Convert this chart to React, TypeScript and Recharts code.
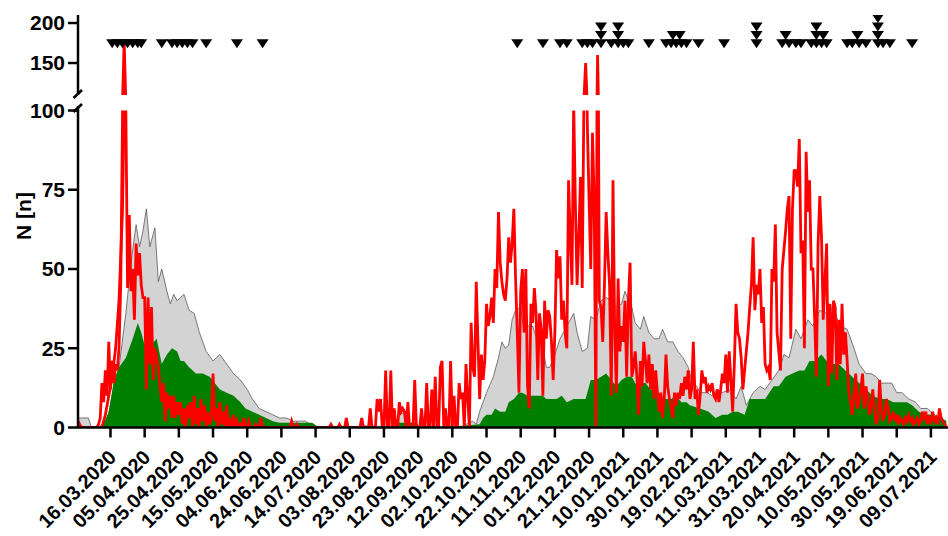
import { Area, ComposedChart, Line, Scatter, XAxis, YAxis } from 'recharts';

// daily counts, day 0 = 26.02.2020
const redDaily = [
  2, 1, 0, 0, 0, 0, 0, 0, 0, 0,
  0, 0, 1, 3, 14, 8, 18, 10, 27, 12,
  21, 14, 20, 18, 25, 45, 95, 178, 100, 44,
  67, 43, 50, 34, 58, 48, 55, 45, 41, 41,
  12, 41, 20, 38, 15, 25, 22, 19, 13, 8,
  14, 2, 11, 6, 10, 3, 10, 3, 8, 4,
  8, 1, 6, 0, 7, 3, 8, 0, 10, 1,
  6, 0, 9, 2, 7, 0, 5, 1, 3, 17,
  2, 6, 0, 8, 1, 5, 0, 7, 0, 2,
  0, 4, 0, 2, 0, 1, 0, 3, 0, 0,
  2, 0, 0, 0, 1, 0, 0, 3, 0, 0,
  0, 0, 0, 0, 0, 0, 0, 0, 0, 0,
  0, 0, 0, 0, 0, 2, 0, 0, 1, 0,
  0, 0, 0, 0, 0, 0, 0, 0, 0, 0,
  0, 0, 0, 0, 0, 0, 0, 0, 1, 0,
  0, 0, 0, 1, 0, 0, 0, 3, 0, 0,
  0, 0, 0, 0, 0, 0, 3, 0, 0, 0,
  0, 6, 0, 0, 0, 9, 5, 9, 0, 0,
  18, 0, 0, 18, 0, 6, 0, 0, 8, 5,
  6, 5, 0, 8, 0, 0, 0, 15, 0, 0,
  0, 6, 0, 0, 14, 0, 0, 12, 0, 16,
  0, 0, 19, 21, 0, 6, 0, 0, 21, 0,
  10, 0, 0, 14, 9, 11, 0, 20, 9, 0,
  33, 19, 16, 46, 27, 9, 23, 15, 21, 39,
  32, 35, 41, 33, 50, 44, 68, 52, 46, 42,
  40, 47, 60, 52, 58, 69, 47, 30, 11, 43,
  50, 30, 50, 13, 6, 39, 33, 44, 36, 15,
  36, 31, 10, 40, 28, 37, 35, 27, 15, 30,
  56, 47, 54, 34, 40, 30, 25, 78, 60, 45,
  103, 70, 45, 60, 79, 44, 105, 150, 95, 72,
  50, 93, 72, 0, 160, 40, 38, 27, 45, 68,
  55, 45, 10, 78, 30, 11, 47, 24, 32, 27,
  40, 16, 40, 52, 16, 19, 24, 16, 4, 21,
  13, 27, 21, 14, 23, 12, 20, 9, 18, 11,
  5, 11, 3, 9, 23, 13, 9, 6, 3, 11,
  7, 11, 9, 14, 10, 16, 12, 18, 9, 12,
  27, 9, 12, 4, 10, 18, 14, 16, 11, 13,
  12, 14, 10, 9, 12, 8, 12, 17, 14, 23,
  11, 24, 15, 5, 20, 39, 30, 28, 22, 12,
  18, 24, 30, 38, 45, 60, 37, 45, 42, 50,
  33, 38, 20, 18, 19, 15, 50, 46, 64, 30,
  24, 18, 50, 56, 62, 69, 73, 28, 69, 81,
  81, 76, 91, 55, 59, 25, 87, 68, 78, 50,
  50, 34, 16, 58, 73, 60, 34, 46, 58, 13,
  39, 17, 40, 38, 15, 34, 20, 39, 23, 30,
  21, 11, 8, 4, 10, 17, 6, 8, 12, 17,
  6, 13, 9, 4, 7, 12, 5, 1, 3, 15,
  6, 2, 4, 9, 6, 2, 3, 5, 2, 4,
  1, 3, 2, 1, 3, 2, 4, 2, 3, 1,
  2, 3, 1, 2, 5, 3, 5, 1, 3, 2,
  5, 2, 3, 1, 6, 3, 2, 1, 0,
];

// second red trace (early rise of first wave)
const red2Days = [14, 16, 18, 20, 22, 24, 26, 27];
const red2N = [0, 4, 10, 16, 25, 40, 68, 100];

const grayDays = [
  0, 6, 8, 12, 14, 17, 20, 24, 28, 31, 34, 36, 38, 40, 42, 45, 47, 49, 52, 54,
  56, 58, 60, 62, 65, 68, 71, 75, 79, 83, 87, 91, 95, 99, 102, 106, 110, 114, 118, 122,
  126, 130, 133, 136, 139, 165, 167, 172, 175, 186, 188, 192, 194, 225, 227, 231, 233, 235, 239, 243,
  246, 248, 250, 252, 254, 256, 259, 261, 263, 266, 269, 272, 274, 276, 279, 282, 284, 287, 290, 292,
  295, 298, 300, 303, 306, 309, 312, 315, 318, 320, 322, 324, 326, 329, 331, 334, 337, 340, 342, 345,
  348, 351, 354, 357, 359, 362, 364, 368, 371, 374, 377, 381, 385, 388, 391, 395, 399, 402, 406, 410,
  413, 416, 420, 423, 427, 430, 434, 437, 440, 443, 446, 450, 454, 457, 461, 464, 467, 470, 473, 476,
  479, 482, 486, 490, 493, 497, 501, 505, 508,
];
const grayN = [
  3, 3, 0, 0, 1, 2, 10, 19, 36, 52, 64, 57, 62, 69, 57, 63, 46, 50, 43, 39,
  42, 40, 41, 42, 37, 36, 30, 24, 21, 23, 20, 17, 15, 12, 9, 6, 5, 4, 3, 3,
  2, 2, 2, 1, 0, 0, 0.5, 0.5, 0, 0, 4, 5, 0, 0, 1, 2, 1, 5, 11, 16,
  22, 27, 25, 26, 34, 37, 38, 30, 32, 32, 27, 25, 19, 19, 23, 28, 30, 33, 36, 30,
  24, 25, 35, 34, 40, 41, 40, 38, 39, 43, 40, 38, 33, 31, 35, 30, 28, 28, 31, 27,
  27, 24, 22, 19, 15, 13, 11, 11, 10, 12, 11, 12, 9, 13, 7, 11, 13, 12, 15, 18,
  23, 22, 31, 28, 34, 32, 37, 36, 38, 36, 32, 31, 25, 20, 17, 17, 16, 14, 14, 14,
  11, 11, 9, 8, 6, 6, 4, 3, 2,
];

const greenDays = [
  0, 14, 18, 21, 24, 28, 32, 35, 37, 39, 43, 46, 49, 52, 55, 58, 60, 62, 65, 69,
  73, 77, 80, 83, 87, 91, 95, 98, 102, 106, 110, 114, 118, 137, 141, 186, 188, 198, 200, 221,
  223, 235, 237, 239, 242, 244, 247, 250, 252, 255, 258, 260, 263, 266, 269, 272, 274, 277, 280, 283,
  286, 290, 294, 297, 300, 303, 306, 309, 312, 315, 318, 321, 324, 327, 330, 332, 335, 338, 341, 344,
  347, 350, 353, 356, 358, 364, 369, 373, 377, 380, 383, 386, 390, 393, 397, 402, 407, 410, 414, 418,
  422, 425, 428, 431, 435, 438, 441, 445, 449, 453, 457, 461, 465, 469, 473, 477, 481, 485, 488, 492,
  496, 500, 504, 508,
];
const greenN = [
  0, 0, 5, 15, 19, 22, 28, 33, 30, 26, 26, 28, 20, 23, 25, 24, 21, 21, 19, 17,
  17, 16, 14, 12, 11, 10, 8, 6, 5, 4, 3, 2, 1.5, 1.5, 0, 0, 1.5, 1.5, 0, 0,
  0.5, 1, 3, 4, 4, 6, 5, 5, 8, 9, 11, 11, 10, 10, 10, 10, 9, 9, 9, 10,
  8, 9, 9, 9, 15, 15, 16, 17, 15, 13, 15, 16, 16, 13, 14, 14, 12, 12, 10, 9,
  9, 10, 8, 8, 7, 6, 5, 3, 4, 4, 5, 5, 4, 9, 9, 9, 13, 13, 16, 17,
  18, 18, 21, 21, 23, 21, 20, 20, 18, 16, 14, 12, 10, 9, 9, 8, 8, 8, 7, 5,
  4, 4, 3, 2,
];

// event markers in the upper panel, by stack level
const level0Days = [
  20, 23, 26, 29, 32, 35, 37, 49, 55, 58, 61, 64, 67, 75, 93, 108,
  257, 272, 282, 286, 295, 298, 301, 306, 312, 316, 319, 322, 334, 344, 347, 350, 353, 356,
  363, 378, 397, 412, 416, 420, 423, 429, 432, 435, 438, 450, 453, 457, 461, 468, 471, 475, 488,
];
const level1Days = [306, 316, 348, 352, 397, 414, 432, 436, 456, 468];
const level2Days = [306, 316, 397, 432, 468];
const level3Days = [468];
const markerLevels = [174, 184.5, 195, 205.5];

const FONT = '"Liberation Sans", Arial, sans-serif';
const tickDays = Array.from({ length: 25 }, (_, i) => 19 + 20 * i);

const fmtDay = (d: number) => {
  const t = new Date(2020, 1, 26 + d);
  const dd = String(t.getDate()).padStart(2, '0');
  const mm = String(t.getMonth() + 1).padStart(2, '0');
  return `${dd}.${mm}.${t.getFullYear()}`;
};

const toMap = (days: number[], vals: number[]) => new Map(days.map((d, i) => [d, vals[i]]));
const grayMap = toMap(grayDays, grayN);
const greenMap = toMap(greenDays, greenN);
const red2Map = toMap(red2Days, red2N);

const table = redDaily.map((red, day) => ({
  day,
  red,
  red2: red2Map.get(day) ?? null,
  gray: grayMap.get(day) ?? null,
  green: greenMap.get(day) ?? null,
}));

const markers = [level0Days, level1Days, level2Days, level3Days].flatMap((days, lvl) =>
  days.map((day) => ({ day, n: markerLevels[lvl] }))
);

const axisStyle = { stroke: '#000', strokeWidth: 2.5 };
const tickStyle = { fill: '#000', fontSize: 21, fontWeight: 700, fontFamily: FONT };

function DateTick({ x, y, payload }: any) {
  const tx = x + 7;
  const ty = y + 19;
  return (
    <text x={tx} y={ty} transform={`rotate(-45, ${tx}, ${ty})`} textAnchor="end"
      fontSize={20} fontWeight={700} fontFamily={FONT} fill="#000">
      {fmtDay(payload.value)}
    </text>
  );
}

function DownTriangle({ cx, cy }: any) {
  return <path d={`M${cx - 6},${cy - 4.5}L${cx + 6},${cy - 4.5}L${cx},${cy + 4.5}Z`} fill="#000" />;
}

export default function App() {
  return (
    <div style={{ position: 'fixed', left: 0, top: 0, width: 948, height: 536, background: '#fff' }}>
      <div style={{ position: 'absolute', left: 0, top: 0 }}>
        <ComposedChart width={948} height={536} data={table} margin={{ top: 110.5, right: 0, bottom: 0, left: 0 }}>
          <XAxis type="number" dataKey="day" domain={[0, 509]} ticks={tickDays} interval={0}
            height={108.5} tick={<DateTick />} tickSize={10} axisLine={axisStyle} tickLine={axisStyle}
            allowDataOverflow />
          <YAxis type="number" domain={[0, 100]} ticks={[0, 25, 50, 75, 100]} width={78}
            tick={tickStyle} tickSize={10} tickMargin={3} axisLine={axisStyle} tickLine={axisStyle}
            allowDataOverflow />
          <Area dataKey="gray" type="linear" fill="#d3d3d3" fillOpacity={1} stroke="#5a5a5a"
            strokeWidth={0.8} connectNulls dot={false} activeDot={false} isAnimationActive={false} />
          <Area dataKey="green" type="linear" fill="#008000" fillOpacity={1} stroke="none"
            connectNulls dot={false} activeDot={false} isAnimationActive={false} />
          <Line dataKey="red2" type="linear" stroke="#ff0000" strokeWidth={2.8} connectNulls
            dot={false} activeDot={false} isAnimationActive={false} />
          <Line dataKey="red" type="linear" stroke="#ff0000" strokeWidth={2.8}
            dot={false} activeDot={false} isAnimationActive={false} />
        </ComposedChart>
      </div>
      <div style={{ position: 'absolute', left: 0, top: 0 }}>
        <ComposedChart width={948} height={100} data={table} margin={{ top: 15, right: 0, bottom: 5, left: 0 }}>
          <XAxis type="number" dataKey="day" domain={[0, 509]} hide allowDataOverflow />
          <YAxis type="number" domain={[110, 210]} ticks={[150, 200]} width={78}
            tick={tickStyle} tickSize={10} tickMargin={3} axisLine={axisStyle} tickLine={axisStyle}
            allowDataOverflow />
          <Line dataKey="red" type="linear" stroke="#ff0000" strokeWidth={2.8}
            dot={false} activeDot={false} isAnimationActive={false} />
          <Scatter data={markers} dataKey="n" shape={DownTriangle} isAnimationActive={false} />
        </ComposedChart>
      </div>
      <svg width={948} height={536} style={{ position: 'absolute', left: 0, top: 0, pointerEvents: 'none' }}>
        <line x1={73.5} y1={98} x2={82} y2={90} stroke="#000" strokeWidth={2.5} />
        <line x1={73.5} y1={112} x2={82} y2={104} stroke="#000" strokeWidth={2.5} />
        <line x1={78} y1={106} x2={78} y2={111} stroke="#000" strokeWidth={2.5} />
        <text x={31} y={216} transform="rotate(-90, 31, 216)" textAnchor="middle"
          fontSize={21} fontWeight={700} fontFamily={FONT} fill="#000">N [n]</text>
      </svg>
    </div>
  );
}
